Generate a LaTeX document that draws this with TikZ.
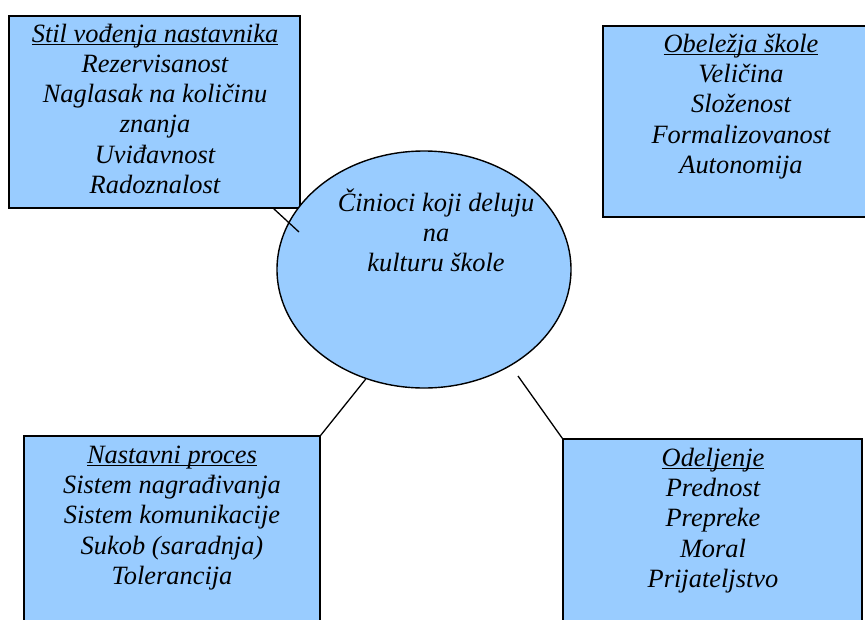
\documentclass[tikz,border=0pt]{standalone}
\usepackage{fontspec}
\setmainfont{Liberation Serif}
\usetikzlibrary{shapes.geometric}
\definecolor{boxblue}{HTML}{99CCFF}
\newcommand\ultitle[1]{\setbox0\hbox{#1}\rlap{\rule[-3pt]{\wd0}{1.3pt}}\box0}
\begin{document}
\begin{tikzpicture}[x=1pt,y=-1pt,
  panel/.style={draw=black, line width=1.4pt, fill=boxblue, rectangle, inner sep=0pt},
  oval/.style={draw=black, line width=1.4pt, fill=boxblue, ellipse, inner sep=0pt},
  label/.style={font=\itshape\fontsize{26.4}{30.3}\selectfont, align=center, anchor=base, inner sep=0pt},
  link/.style={draw=black, line width=1.3pt}]
\useasboundingbox (0,0) rectangle (865,619);
\clip (0,0) rectangle (865,619);
\fill[white] (0,0) rectangle (865,619);
% boxes
\node[panel, minimum width=291pt, minimum height=192pt] (tl) at (154.5,112) {};
\node[panel, minimum width=277pt, minimum height=191pt] (tr) at (741.5,121.5) {};
\node[panel, minimum width=296pt, minimum height=220pt] (bl) at (172,546) {};
\node[panel, minimum width=299pt, minimum height=220pt] (br) at (712.5,549) {};
\node[oval, minimum width=294pt, minimum height=237pt] (ell) at (424,269.5) {};
% texts (base anchor = baseline of last line)
\node[label] (tltext) at (155,193.5) {\ultitle{Stil vođenja nastavnika}\\Rezervisanost\\Naglasak na količinu\\znanja\\Uviđavnost\\Radoznalost};
\node[label] (trtext) at (741,173.5) {\ultitle{Obeležja škole}\\Veličina\\Složenost\\Formalizovanost\\Autonomija};
\node[label] (bltext) at (172,584.5) {\ultitle{Nastavni proces}\\Sistem nagrađivanja\\Sistem komunikacije\\Sukob (saradnja)\\Tolerancija};
\node[label] (brtext) at (713,587.5) {\ultitle{Odeljenje}\\Prednost\\Prepreke\\Moral\\Prijateljstvo};
\node[label] (elltext) at (436,271.8) {Činioci koji deluju\\na\\kulturu škole};
% connectors
\coordinate (c1) at (299,232);
\coordinate (c3) at (518,376);
\draw[link] ([xshift=-27pt]tl.south east) -- (c1);
\draw[link] (ell.242.4) -- (bl.north east);
\draw[link] (c3) -- (br.north west);
\end{tikzpicture}
\end{document}
